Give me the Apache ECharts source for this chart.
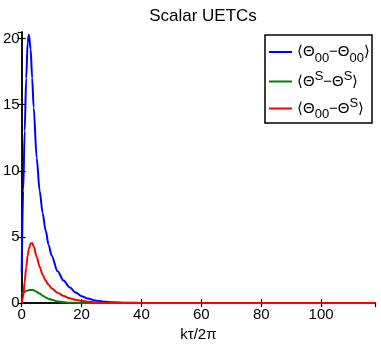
<!DOCTYPE html>
<html>
<head>
<meta charset="utf-8">
<script src="https://cdn.jsdelivr.net/npm/echarts@6/dist/echarts.min.js"></script>
<style>
html, body { margin: 0; padding: 0; background: #fff; }
#main { width: 381px; height: 347px; }
</style>
</head>
<body>
<div id="main"></div>
<script>
// k tau / 2 pi sample points
var kx = [0, 0.5, 1, 1.5, 2, 2.4, 3, 3.5, 4, 5, 6, 7, 8, 9, 10, 12, 14, 16, 18, 20, 22, 25, 28, 30, 35, 40, 50, 60, 80, 100, 118];
var tt = [2.3, 8.5, 13, 17, 19.7, 20.3, 19.2, 17, 14.8, 11, 8.5, 6.8, 5.5, 4.4, 3.6, 2.4, 1.7, 1.2, 0.8, 0.52, 0.34, 0.18, 0.1, 0.07, 0.03, 0.01, 0.004, 0, 0, 0, 0];
var ss = [0.7, 0.8, 0.86, 0.92, 0.96, 0.98, 1.0, 1.0, 0.97, 0.86, 0.72, 0.56, 0.43, 0.33, 0.25, 0.13, 0.07, 0.035, 0.018, 0.01, 0.005, 0, 0, 0, 0, 0, 0, 0, 0, 0, 0];
var ts = [0, 0.5, 1.6, 2.7, 3.6, 4.1, 4.5, 4.55, 4.3, 3.5, 2.75, 2.15, 1.7, 1.38, 1.12, 0.78, 0.54, 0.37, 0.25, 0.17, 0.11, 0.06, 0.03, 0.02, 0.008, 0.003, 0, 0, 0, 0, 0];
var xTicks = [0, 20, 40, 60, 80, 100];
var yTicks = [0, 5, 10, 15, 20];

var names = ['⟨Θ00−Θ00⟩', '⟨ΘS−ΘS⟩', '⟨Θ00−ΘS⟩'];
var richNames = {};
richNames[names[0]] = '{a|⟨Θ}{sub|00}{a|−Θ}{sub|00}{a|⟩}';
richNames[names[1]] = '{a|⟨Θ}{sup|S}{a|−Θ}{sup|S}{a|⟩}';
richNames[names[2]] = '{a|⟨Θ}{sub|00}{a|−Θ}{sup|S}{a|⟩}';

function pairs(ys) {
	return kx.map(function(x, i) { return [x, ys[i]]; });
}

var font = 'Liberation Sans, Arial, Helvetica, sans-serif';
var myChart = echarts.init(document.getElementById('main'));

var frameAxis = {
	min: 0,
	axisLine: { show: true, lineStyle: { color: '#000', width: 1.5 } },
	axisTick: { show: true, inside: true, length: 4, lineStyle: { color: '#000', width: 1.2 } },
	splitLine: { show: false }
};

var option = {
	backgroundColor: '#fff',
	animation: false,
	title: {
		text: 'Scalar UETCs',
		left: 198, top: 3,
		textAlign: 'center',
		textStyle: { fontFamily: font, fontSize: 17, fontWeight: 'normal', color: '#000' }
	},
	grid: { left: 21, right: 6, top: 32, bottom: 39, containLabel: false },
	legend: {
		orient: 'vertical',
		right: 9, top: 35,
		data: names,
		icon: 'rect',
		itemWidth: 23, itemHeight: 2,
		itemGap: 5,
		itemStyle: { borderWidth: 0 },
		padding: [7, 2, 2, 4],
		borderColor: '#000', borderWidth: 1.5,
		backgroundColor: '#fff',
		formatter: function(n) { return richNames[n]; },
		textStyle: {
			fontFamily: font, color: '#000', lineHeight: 20,
			rich: {
				a: { fontSize: 15, fontFamily: font, color: '#000' },
				sub: { fontSize: 13, fontFamily: font, color: '#000', padding: [12, 0, 0, 0] },
				sup: { fontSize: 13, fontFamily: font, color: '#000', padding: [0, 0, 11, 0] }
			}
		}
	},
	xAxis: [
		Object.assign({}, frameAxis, {
			type: 'value', max: 118, interval: 20, position: 'bottom',
			name: 'kτ/2π', nameLocation: 'middle', nameGap: 22,
			nameTextStyle: { fontFamily: font, fontSize: 15, color: '#000' },
			axisLabel: { fontFamily: font, fontSize: 15, color: '#000', margin: 4, showMaxLabel: false,
				formatter: function(v) { return xTicks.indexOf(v) >= 0 ? v : ''; } }
		}),
		Object.assign({}, frameAxis, {
			type: 'value', max: 118, interval: 20, position: 'top',
			axisLabel: { show: false }
		})
	],
	yAxis: [
		Object.assign({}, frameAxis, {
			type: 'value', max: 20.5, interval: 5, position: 'left',
			axisLabel: { fontFamily: font, fontSize: 15, color: '#000', margin: 2, showMaxLabel: false,
				formatter: function(v) { return yTicks.indexOf(v) >= 0 ? v : ''; } }
		}),
		Object.assign({}, frameAxis, {
			type: 'value', max: 20.5, interval: 5, position: 'right',
			axisLabel: { show: false }
		})
	],
	series: [
		{ name: names[0], type: 'line', data: pairs(tt), color: '#0000ff' },
		{ name: names[1], type: 'line', data: pairs(ss), color: '#008000' },
		{ name: names[2], type: 'line', data: pairs(ts), color: '#ff0000' }
	].map(function(s) {
		s.showSymbol = false;
		s.smooth = 0.3;
		s.smoothMonotone = 'x';
		s.lineStyle = { width: 2 };
		return s;
	})
};
myChart.setOption(option);
</script>
</body>
</html>
